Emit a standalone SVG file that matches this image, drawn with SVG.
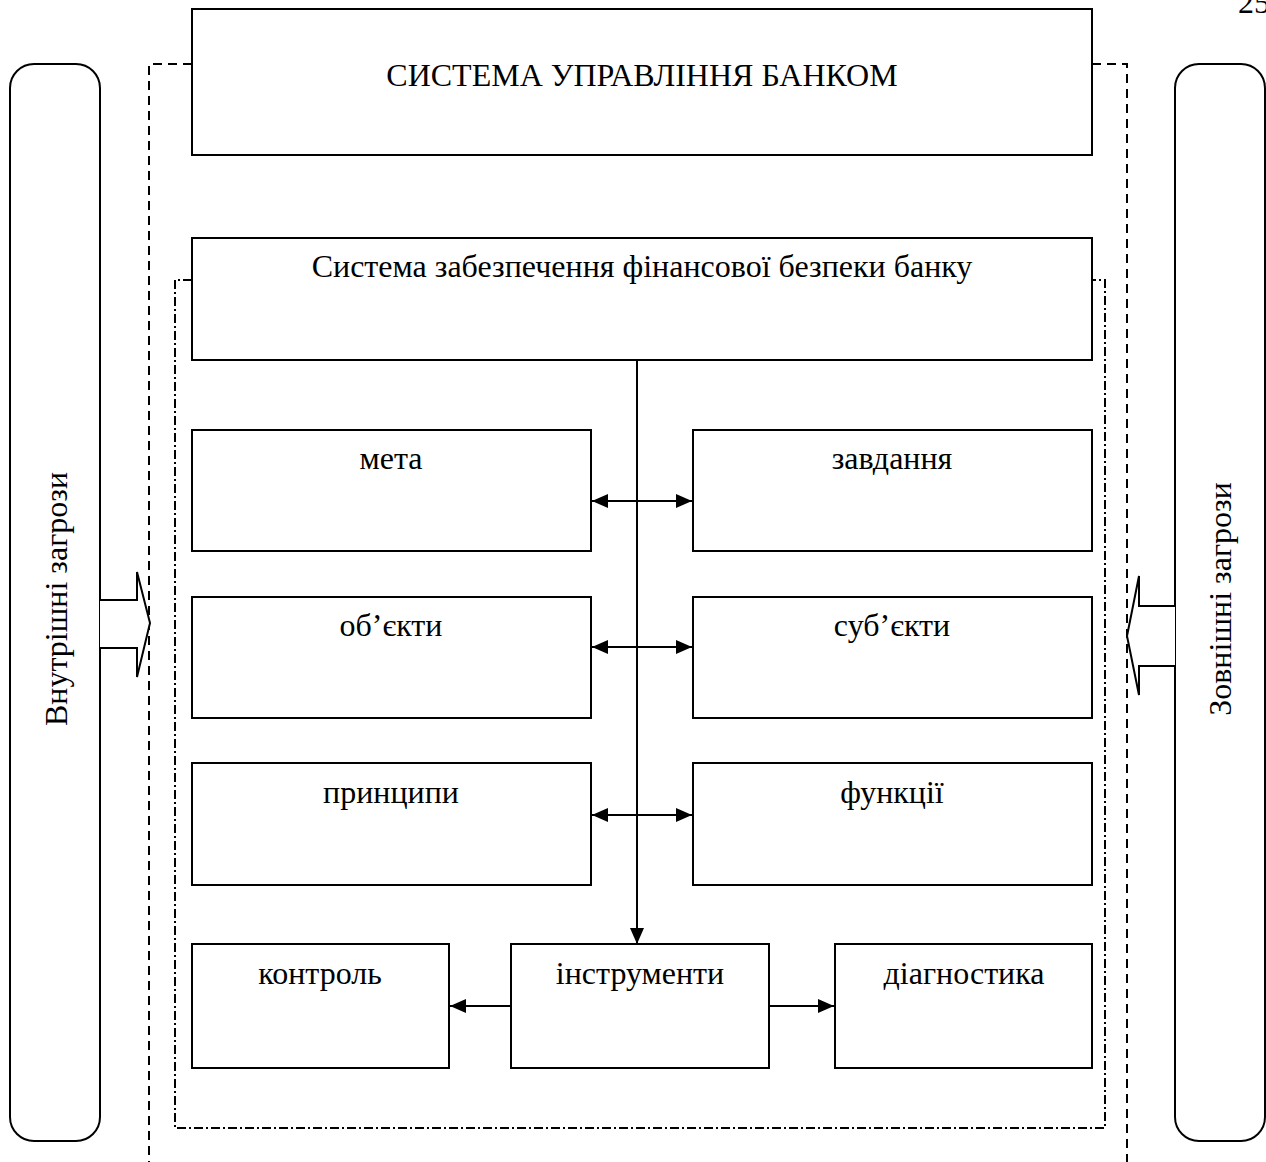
<svg xmlns="http://www.w3.org/2000/svg" width="1266" height="1162" viewBox="0 0 1266 1162">
<style>
.box{fill:#fff;stroke:#000;stroke-width:2}
.side{fill:#fff;stroke:#000;stroke-width:2}
.dash{fill:none;stroke:#000;stroke-width:2;stroke-dasharray:9 6}
.dashdot{fill:none;stroke:#000;stroke-width:2;stroke-dasharray:9 3 2 3}
.line{fill:none;stroke:#000;stroke-width:2}
.blk{fill:#fff;stroke:#000;stroke-width:2;stroke-linejoin:miter}
text{font-family:"Liberation Serif","Times New Roman",serif;font-size:32px;fill:#000;text-anchor:middle}
</style>
<defs>
<marker id="a" viewBox="0 0 16 14" refX="16" refY="7" markerWidth="16" markerHeight="14" orient="auto-start-reverse" markerUnits="userSpaceOnUse">
<path d="M0,0 L16,7 L0,14 z" fill="#000"/>
</marker>
</defs>
<rect width="1266" height="1162" fill="#fff"/>
<text x="1238" y="13" style="text-anchor:start">25</text>

<g id="outer-boundary">
<path class="dash" d="M192,64 H149 V1162"/>
<path class="dash" d="M1092,64 H1127 V1162"/>
</g>
<g id="inner-boundary">
<path class="dashdot" d="M192,280 H175 V1128 H1105 V280 H1092"/>
</g>

<g id="internal-threats">
<rect class="side" x="10" y="64" width="90" height="1077" rx="24"/>
<text transform="translate(67,599) rotate(-90)">Внутрішні загрози</text>
</g>
<g id="external-threats">
<rect class="side" x="1175" y="64" width="90" height="1077" rx="24"/>
<text transform="translate(1231,599) rotate(-90)">Зовнішні загрози</text>
</g>

<g id="block-arrows">
<path class="blk" d="M100,600 H137 V572 L150,623 L137,677 V648 H100"/>
<path class="blk" d="M1175,606 H1139 V576 L1127,636 L1139,695 V666 H1175"/>
</g>

<g id="bank-management">
<rect class="box" x="192" y="9" width="900" height="146"/>
<text x="642" y="86">СИСТЕМА УПРАВЛІННЯ БАНКОМ</text>
</g>
<g id="security-system">
<rect class="box" x="192" y="238" width="900" height="122"/>
<text x="642" y="277">Система забезпечення фінансової безпеки банку</text>
</g>

<g id="meta"><rect class="box" x="192" y="430" width="399" height="121"/><text x="391" y="469">мета</text></g>
<g id="zavdannia"><rect class="box" x="693" y="430" width="399" height="121"/><text x="892" y="469">завдання</text></g>
<g id="obiekty"><rect class="box" x="192" y="597" width="399" height="121"/><text x="391" y="636">об’єкти</text></g>
<g id="subiekty"><rect class="box" x="693" y="597" width="399" height="121"/><text x="892" y="636">суб’єкти</text></g>
<g id="pryntsypy"><rect class="box" x="192" y="763" width="399" height="122"/><text x="391" y="803">принципи</text></g>
<g id="funktsii"><rect class="box" x="693" y="763" width="399" height="122"/><text x="892" y="803">функції</text></g>
<g id="kontrol"><rect class="box" x="192" y="944" width="257" height="124"/><text x="320" y="984">контроль</text></g>
<g id="instrumenty"><rect class="box" x="511" y="944" width="258" height="124"/><text x="640" y="984">інструменти</text></g>
<g id="diagnostyka"><rect class="box" x="835" y="944" width="257" height="124"/><text x="964" y="984">діагностика</text></g>

<g id="connectors">
<line class="line" x1="637" y1="360" x2="637" y2="944" marker-end="url(#a)"/>
<line class="line" x1="592" y1="501" x2="692" y2="501" marker-start="url(#a)" marker-end="url(#a)"/>
<line class="line" x1="592" y1="647" x2="692" y2="647" marker-start="url(#a)" marker-end="url(#a)"/>
<line class="line" x1="592" y1="815" x2="692" y2="815" marker-start="url(#a)" marker-end="url(#a)"/>
<line class="line" x1="511" y1="1006" x2="450" y2="1006" marker-end="url(#a)"/>
<line class="line" x1="769" y1="1006" x2="834" y2="1006" marker-end="url(#a)"/>
</g>
</svg>
